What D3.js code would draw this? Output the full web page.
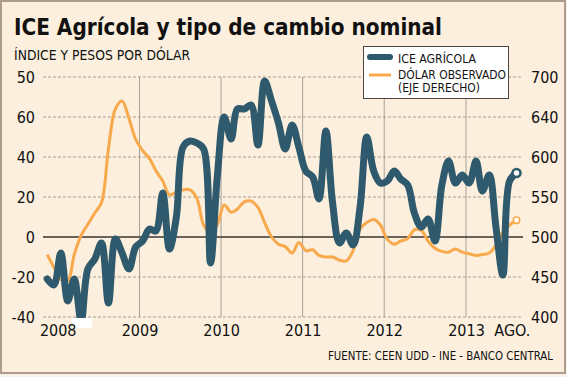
<!DOCTYPE html>
<html><head><meta charset="utf-8">
<script src="https://cdn.jsdelivr.net/npm/d3@7"></script>
<style>
html,body{margin:0;padding:0;background:#f7f1ea;}
svg{display:block;}
text{font-family:"Liberation Sans Narrow","DejaVu Sans Condensed","Liberation Sans",sans-serif;fill:#111;}
</style></head>
<body>
<svg id="c" width="567" height="377"></svg>
<script>
// ---- data ----
const months = ["2007-11","2007-12",
"2008-01","2008-02","2008-03","2008-04","2008-05","2008-06","2008-07","2008-08","2008-09","2008-10","2008-11","2008-12",
"2009-01","2009-02","2009-03","2009-04","2009-05","2009-06","2009-07","2009-08","2009-09","2009-10","2009-11","2009-12",
"2010-01","2010-02","2010-03","2010-04","2010-05","2010-06","2010-07","2010-08","2010-09","2010-10","2010-11","2010-12",
"2011-01","2011-02","2011-03","2011-04","2011-05","2011-06","2011-07","2011-08","2011-09","2011-10","2011-11","2011-12",
"2012-01","2012-02","2012-03","2012-04","2012-05","2012-06","2012-07","2012-08","2012-09","2012-10","2012-11","2012-12",
"2013-01","2013-02","2013-03","2013-04","2013-05","2013-06","2013-07","2013-08"];
const iceAgricola = [-21,-24,-8,-32,-21,-42,-16,-11,-3,-33,-1,-8,-16,-5,-2,4,3,22,-6,10,45,48,47,44,-13,30,60,49,64,64,66,46,78,68,57,44,56,45,33,30,19,53,17,-3,2,-4,15,50,33,27,28,33,29,26,12,5,9,-2,26,38,27,31,27,38,23,31,5,-19,28,32];
const dolarObservado = [478,462,447,445,478,502,516,530,543,610,660,670,648,622,608,598,583,570,553,556,559,559,548,515,505,515,540,531,535,544,545,537,518,500,491,488,480,493,483,484,477,475,475,471,470,483,510,518,522,515,497,491,495,498,509,508,495,486,482,481,485,481,479,477,478,480,490,506,515,521];
const leftTicks = [-40,-20,0,20,40,60,80];
const leftTickLabels = ["-40","-20","0","20","40","60","50"];
const rightTicks = [400,450,500,550,600,650,700];
const rightTickLabels = ["400","450","500","550","600","640","700"];
const xLabelDates = ["2008-01-01","2009-01-01","2010-01-01","2011-01-01","2012-01-01","2013-01-01","2013-07-25"];
const xLabels = ["2008","2009","2010","2011","2012","2013","AGO."];
const yearLines = ["2009-01-01","2010-01-01","2011-01-01","2012-01-01","2013-01-01"];

// ---- chart ----
const svg = d3.select("#c");
const BG = "#fcefdd", BLUE = "#2f5a6d", ORANGE = "#f8a94c";
svg.append("rect").attr("x",1).attr("y",1).attr("width",564).attr("height",372)
  .attr("fill",BG).attr("stroke","#b09c8c").attr("stroke-width",2);

const parseM = d3.timeParse("%Y-%m"), parseD = d3.timeParse("%Y-%m-%d");
const dates = months.map(m => d3.timeDay.offset(parseM(m), 14));
const x = d3.scaleTime().domain([parseD("2008-01-01"), parseD("2013-01-01")]).range([57.7, 466]);
const yL = d3.scaleLinear().domain([-40, 80]).range([317, 77]);
const yR = d3.scaleLinear().domain([400, 700]).range([317, 77]);
const X0 = 43, X1 = 523;

// horizontal dashed grid
svg.append("g").selectAll("line").data(leftTicks.filter(d => d !== 0)).join("line")
  .attr("x1",X0).attr("x2",X1).attr("y1",d=>yL(d)).attr("y2",d=>yL(d))
  .attr("stroke","#a39b92").attr("stroke-width",1).attr("stroke-dasharray","3,2");
// vertical year lines
svg.append("g").selectAll("line").data(yearLines).join("line")
  .attr("x1",d=>x(parseD(d))).attr("x2",d=>x(parseD(d)))
  .attr("y1",yL(80)).attr("y2",yL(-40))
  .attr("stroke","#a8a198").attr("stroke-width",1);
// zero line
svg.append("line").attr("x1",X0).attr("x2",X1).attr("y1",yL(0)).attr("y2",yL(0))
  .attr("stroke","#3a3530").attr("stroke-width",1.6);

// lines
const curve = d3.curveCatmullRom.alpha(0.5);
const lineR = d3.line().x((d,i)=>x(dates[i])).y(d=>yR(d)).curve(curve);
const lineL = d3.line().x((d,i)=>x(dates[i])).y(d=>yL(d)).curve(curve);
svg.append("path").datum(dolarObservado).attr("d",lineR).attr("fill","none")
  .attr("stroke",ORANGE).attr("stroke-width",3).attr("stroke-linejoin","round");
svg.append("path").datum(iceAgricola).attr("d",lineL).attr("fill","none")
  .attr("stroke",BLUE).attr("stroke-width",7).attr("stroke-linejoin","round").attr("stroke-linecap","round");
const n = dates.length - 1;
svg.append("circle").attr("cx",x(dates[n])).attr("cy",yR(dolarObservado[n])).attr("r",3.2)
  .attr("fill","#fff").attr("stroke",ORANGE).attr("stroke-width",1.6);
svg.append("circle").attr("cx",x(dates[n])).attr("cy",yL(iceAgricola[n])).attr("r",4)
  .attr("fill","#fff").attr("stroke",BLUE).attr("stroke-width",2.6);
// white mask below the -40 line
svg.append("rect").attr("x",72).attr("y",318).attr("width",20).attr("height",10).attr("fill","#fff");

// axes (labels only)
const axL = svg.append("g").attr("transform",`translate(${X0},0)`)
  .call(d3.axisLeft(yL).tickValues(leftTicks).tickSize(0).tickPadding(8)
    .tickFormat((d,i)=>leftTickLabels[i]));
const axR = svg.append("g").attr("transform",`translate(${X1},0)`)
  .call(d3.axisRight(yR).tickValues(rightTicks).tickSize(0).tickPadding(8)
    .tickFormat((d,i)=>rightTickLabels[i]));
const axB = svg.append("g").attr("transform",`translate(0,${yL(-40)})`)
  .call(d3.axisBottom(x).tickValues(xLabelDates.map(parseD)).tickSize(0).tickPadding(8)
    .tickFormat((d,i)=>xLabels[i]));
[axL,axR,axB].forEach(g=>{g.select(".domain").remove();
  g.selectAll("text").attr("font-size",16).attr("fill","#111")
   .style("font-family",'"Liberation Sans Narrow","DejaVu Sans Condensed",sans-serif');});

// title & subtitle
svg.append("text").attr("x",14).attr("y",35).attr("font-size",23).attr("font-weight","bold")
  .attr("textLength",428).attr("lengthAdjust","spacingAndGlyphs")
  .text("ICE Agrícola y tipo de cambio nominal");
svg.append("text").attr("x",14).attr("y",60).attr("font-size",14)
  .attr("textLength",176).attr("lengthAdjust","spacingAndGlyphs")
  .text("ÍNDICE Y PESOS POR DÓLAR");

// legend
const lg = svg.append("g");
lg.append("rect").attr("x",363.5).attr("y",46.5).attr("width",145).attr("height",52)
  .attr("fill","#fff").attr("stroke","#4a4540").attr("stroke-width",1);
lg.append("line").attr("x1",370).attr("x2",390).attr("y1",57).attr("y2",57)
  .attr("stroke",BLUE).attr("stroke-width",6).attr("stroke-linecap","round");
lg.append("line").attr("x1",369).attr("x2",391).attr("y1",75).attr("y2",75)
  .attr("stroke",ORANGE).attr("stroke-width",3);
lg.append("text").attr("x",398).attr("y",62.5).attr("font-size",12.5)
  .attr("textLength",78).attr("lengthAdjust","spacingAndGlyphs").text("ICE AGRÍCOLA");
lg.append("text").attr("x",398).attr("y",79).attr("font-size",12)
  .attr("textLength",108).attr("lengthAdjust","spacingAndGlyphs").text("DÓLAR OBSERVADO");
lg.append("text").attr("x",398).attr("y",91.5).attr("font-size",12)
  .attr("textLength",82).attr("lengthAdjust","spacingAndGlyphs").text("(EJE DERECHO)");

// footer
svg.append("text").attr("x",553).attr("y",360).attr("font-size",11.5).attr("text-anchor","end")
  .attr("textLength",225).attr("lengthAdjust","spacingAndGlyphs")
  .text("FUENTE: CEEN UDD - INE - BANCO CENTRAL");
</script>
</body></html>
